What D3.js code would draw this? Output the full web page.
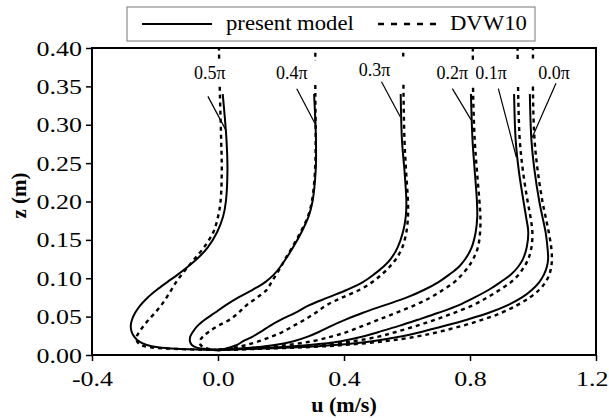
<!DOCTYPE html>
<html lang="en">
<head>
    <meta charset="UTF-8">
    <title>Velocity profiles</title>
    <style>
        body { margin: 0; background: #fff; }
        svg text { font-family: 'Liberation Serif', 'Times New Roman', serif; fill: #000; }
        .tick line { stroke: #000; stroke-width: 1.5; }
    </style>
    <script src="https://d3js.org/d3.v7.min.js"></script>
</head>
<body>
    <svg id="graph" width="609" height="418"></svg>
    <script>
        const zModel = [0.0065, 0.008, 0.010, 0.013, 0.018, 0.024, 0.030, 0.038, 0.046, 0.055, 0.065, 0.075,
                        0.085, 0.095, 0.105, 0.115, 0.125, 0.14, 0.16, 0.18, 0.20, 0.24, 0.28, 0.34];
        const zDvw = [0.0065, 0.008, 0.010, 0.013, 0.018, 0.024, 0.030, 0.038, 0.046, 0.055, 0.065, 0.075,
                      0.085, 0.095, 0.105, 0.115, 0.125, 0.14, 0.16, 0.18, 0.20, 0.24, 0.28, 0.34, 0.40];

        // present model, u (m/s)
        const model00 = [0, 0.12, 0.25, 0.37, 0.49, 0.58, 0.645, 0.72, 0.79, 0.86, 0.92, 0.965,
                         0.997, 1.02, 1.035, 1.044, 1.048, 1.046, 1.04, 1.03, 1.02, 1.005, 0.995, 0.99];
        const model01 = [0, 0.09, 0.19, 0.29, 0.39, 0.46, 0.51, 0.575, 0.635, 0.70, 0.765, 0.815,
                         0.86, 0.897, 0.93, 0.953, 0.968, 0.98, 0.985, 0.978, 0.97, 0.955, 0.945, 0.94];
        const model02 = [0, 0.06, 0.12, 0.18, 0.24, 0.285, 0.32, 0.36, 0.405, 0.46, 0.53, 0.60,
                         0.655, 0.70, 0.735, 0.765, 0.785, 0.805, 0.818, 0.823, 0.822, 0.815, 0.808, 0.803];
        const model03 = [0, 0.02, 0.04, 0.06, 0.08, 0.11, 0.135, 0.165, 0.20, 0.245, 0.29, 0.35,
                         0.41, 0.46, 0.495, 0.525, 0.548, 0.57, 0.587, 0.596, 0.598, 0.592, 0.584, 0.58];
        const model04 = [0, -0.045, -0.07, -0.083, -0.089, -0.088, -0.08, -0.065, -0.042, -0.01, 0.025, 0.065,
                         0.11, 0.15, 0.178, 0.198, 0.215, 0.238, 0.265, 0.287, 0.30, 0.31, 0.311, 0.305];
        const model05 = [0, -0.13, -0.19, -0.226, -0.252, -0.266, -0.274, -0.277, -0.273, -0.263, -0.246, -0.223,
                         -0.194, -0.161, -0.127, -0.096, -0.067, -0.033, -0.003, 0.016, 0.025, 0.03, 0.027, 0.015];

        // DVW10, u (m/s)
        const dvw00 = [0, 0.13, 0.27, 0.40, 0.53, 0.63, 0.70, 0.775, 0.84, 0.90, 0.95, 0.99,
                       1.02, 1.04, 1.052, 1.058, 1.06, 1.058, 1.05, 1.04, 1.03, 1.015, 1.005, 1.0, 1.0];
        const dvw01 = [0, 0.10, 0.21, 0.32, 0.43, 0.51, 0.565, 0.63, 0.69, 0.75, 0.81, 0.855,
                       0.895, 0.93, 0.955, 0.972, 0.985, 0.995, 0.998, 0.992, 0.983, 0.968, 0.958, 0.953, 0.951];
        const dvw02 = [0, 0.07, 0.14, 0.22, 0.30, 0.36, 0.41, 0.46, 0.51, 0.565, 0.625, 0.675,
                       0.715, 0.75, 0.775, 0.795, 0.81, 0.825, 0.832, 0.833, 0.83, 0.822, 0.815, 0.81, 0.809];
        const dvw03 = [0, 0.03, 0.06, 0.09, 0.13, 0.17, 0.205, 0.24, 0.275, 0.31, 0.345, 0.395,
                       0.45, 0.49, 0.52, 0.545, 0.565, 0.585, 0.598, 0.603, 0.603, 0.597, 0.592, 0.589, 0.588];
        const dvw04 = [0, -0.03, -0.045, -0.055, -0.058, -0.048, -0.03, 0.0, 0.037, 0.065, 0.091, 0.125,
                       0.155, 0.17, 0.185, 0.20, 0.213, 0.235, 0.262, 0.285, 0.298, 0.308, 0.31, 0.309, 0.309];
        const dvw05 = [0, -0.14, -0.215, -0.245, -0.257, -0.258, -0.25, -0.236, -0.22, -0.2, -0.18, -0.163,
                       -0.148, -0.133, -0.115, -0.095, -0.075, -0.045, -0.015, 0.0, 0.008, 0.012, 0.01, 0.006, 0.003];

        // phase labels and their leader lines (data units)
        const phaseLabels = ["0.0π", "0.1π", "0.2π", "0.3π", "0.4π", "0.5π"];
        const labelU = [1.067, 0.867, 0.744, 0.497, 0.234, -0.026];
        const labelZ = [0.3596, 0.3596, 0.3596, 0.3635, 0.3596, 0.3596];
        const leaderFromU = [1.073, 0.890, 0.744, 0.519, 0.250, -0.032];
        const leaderFromZ = [0.354, 0.347, 0.347, 0.356, 0.347, 0.337];
        const leaderToU = [0.997, 0.947, 0.804, 0.579, 0.310, 0.025];
        const leaderToZ = [0.283, 0.258, 0.306, 0.310, 0.300, 0.293];

        const xTicks = [-0.4, 0.0, 0.4, 0.8, 1.2];
        const yTicks = [0.00, 0.05, 0.10, 0.15, 0.20, 0.25, 0.30, 0.35, 0.40];

        let margin = {top: 48, right: 13, bottom: 63, left: 92},
            width = 609 - margin.left - margin.right,
            height = 418 - margin.top - margin.bottom;

        let stretch = 1.18; // the original figure is a little wider than tall

        let svg = d3.select("#graph")
            .append("g")
            .attr("transform", "translate(" + margin.left + "," + margin.top + ")");

        let x = d3.scaleLinear().domain([-0.4, 1.2]).range([0, width]);
        let y = d3.scaleLinear().domain([0, 0.4]).range([height, 0]);

        let models = [model00, model01, model02, model03, model04, model05];
        let dvws = [dvw00, dvw01, dvw02, dvw03, dvw04, dvw05];

        let line = d3.line()
            .x(d => x(d.u))
            .y(d => y(d.z))
            .curve(d3.curveCatmullRom.alpha(0.5));

        // axes
        let xAxis = svg.append("g")
            .attr("transform", "translate(0," + height + ")")
            .call(d3.axisBottom(x).tickValues(xTicks).tickSize(6).tickPadding(9)
                .tickFormat(d => d.toFixed(1)));
        let yAxis = svg.append("g")
            .call(d3.axisLeft(y).tickValues(yTicks).tickSize(6)
                .tickFormat(d => d.toFixed(2)));
        xAxis.select(".domain").remove();
        yAxis.select(".domain").remove();
        xAxis.selectAll("text")
            .style("font-size", "22px")
            .attr("transform", "scale(" + stretch + ",1)");
        // the last label sits against the right edge of the picture
        xAxis.selectAll("text").filter(d => d === 1.2)
            .attr("text-anchor", "end")
            .attr("x", 12 / stretch);
        yAxis.selectAll("text")
            .style("font-size", "22px")
            .attr("x", -10 / stretch)
            .attr("transform", "scale(" + stretch + ",1)");

        // curves
        dvws.forEach(function(us) {
            svg.append("path")
                .datum(us.map((u, i) => ({u: u, z: zDvw[i]})))
                .attr("d", line)
                .attr("fill", "none")
                .attr("stroke", "#000")
                .attr("stroke-width", 2.4)
                .attr("stroke-dasharray", "4,4");
        });
        models.forEach(function(us) {
            svg.append("path")
                .datum(us.map((u, i) => ({u: u, z: zModel[i]})))
                .attr("d", line)
                .attr("fill", "none")
                .attr("stroke", "#000")
                .attr("stroke-width", 2);
        });

        // phase labels, with white boxes that hide the dashed lines behind them
        phaseLabels.forEach(function(lab, i) {
            let g = svg.append("g");
            let box = g.append("rect").attr("fill", "#fff");
            let t = g.append("text")
                .attr("x", x(labelU[i]))
                .attr("y", y(labelZ[i]))
                .attr("text-anchor", "middle")
                .style("font-size", "18px")
                .text(lab);
            let bb = t.node().getBBox();
            let lineX = x(dvws[i][dvws[i].length - 1]);
            let x0 = Math.min(bb.x, lineX - 3), x1 = Math.max(bb.x + bb.width, lineX + 3);
            box.attr("x", x0).attr("y", bb.y - 2).attr("width", x1 - x0).attr("height", bb.height + 4);

            svg.append("line")
                .attr("x1", x(leaderFromU[i])).attr("y1", y(leaderFromZ[i]))
                .attr("x2", x(leaderToU[i])).attr("y2", y(leaderToZ[i]))
                .attr("stroke", "#000")
                .attr("stroke-width", 1.2);
        });

        // frame
        svg.append("rect")
            .attr("width", width)
            .attr("height", height)
            .attr("fill", "none")
            .attr("stroke", "#000")
            .attr("stroke-width", 2);

        // axis titles
        svg.append("text")
            .attr("transform", "translate(" + (width / 2) + "," + (height + 57) + ") scale(1.05,1)")
            .attr("text-anchor", "middle")
            .style("font-size", "21px")
            .style("font-weight", "bold")
            .text("u (m/s)");
        svg.append("text")
            .attr("transform", "translate(" + (-66) + "," + (height / 2 - 6) + ") rotate(-90)")
            .attr("text-anchor", "middle")
            .style("font-size", "21px")
            .style("font-weight", "bold")
            .text("z (m)");

        // legend
        let legend = d3.select("#graph").append("g");
        legend.append("rect")
            .attr("x", 127).attr("y", 7)
            .attr("width", 408).attr("height", 34)
            .attr("fill", "#fff")
            .attr("stroke", "#777")
            .attr("stroke-width", 1);
        legend.append("line")
            .attr("x1", 142).attr("x2", 212).attr("y1", 24).attr("y2", 24)
            .attr("stroke", "#000").attr("stroke-width", 2);
        legend.append("text")
            .attr("transform", "translate(226,30) scale(1.08,1)")
            .style("font-size", "21px")
            .text("present model");
        legend.append("line")
            .attr("x1", 378).attr("x2", 440).attr("y1", 24).attr("y2", 24)
            .attr("stroke", "#000").attr("stroke-width", 2.4)
            .attr("stroke-dasharray", "6,7");
        legend.append("text")
            .attr("transform", "translate(450,30) scale(1.08,1)")
            .style("font-size", "21px")
            .text("DVW10");
    </script>
</body>
</html>
